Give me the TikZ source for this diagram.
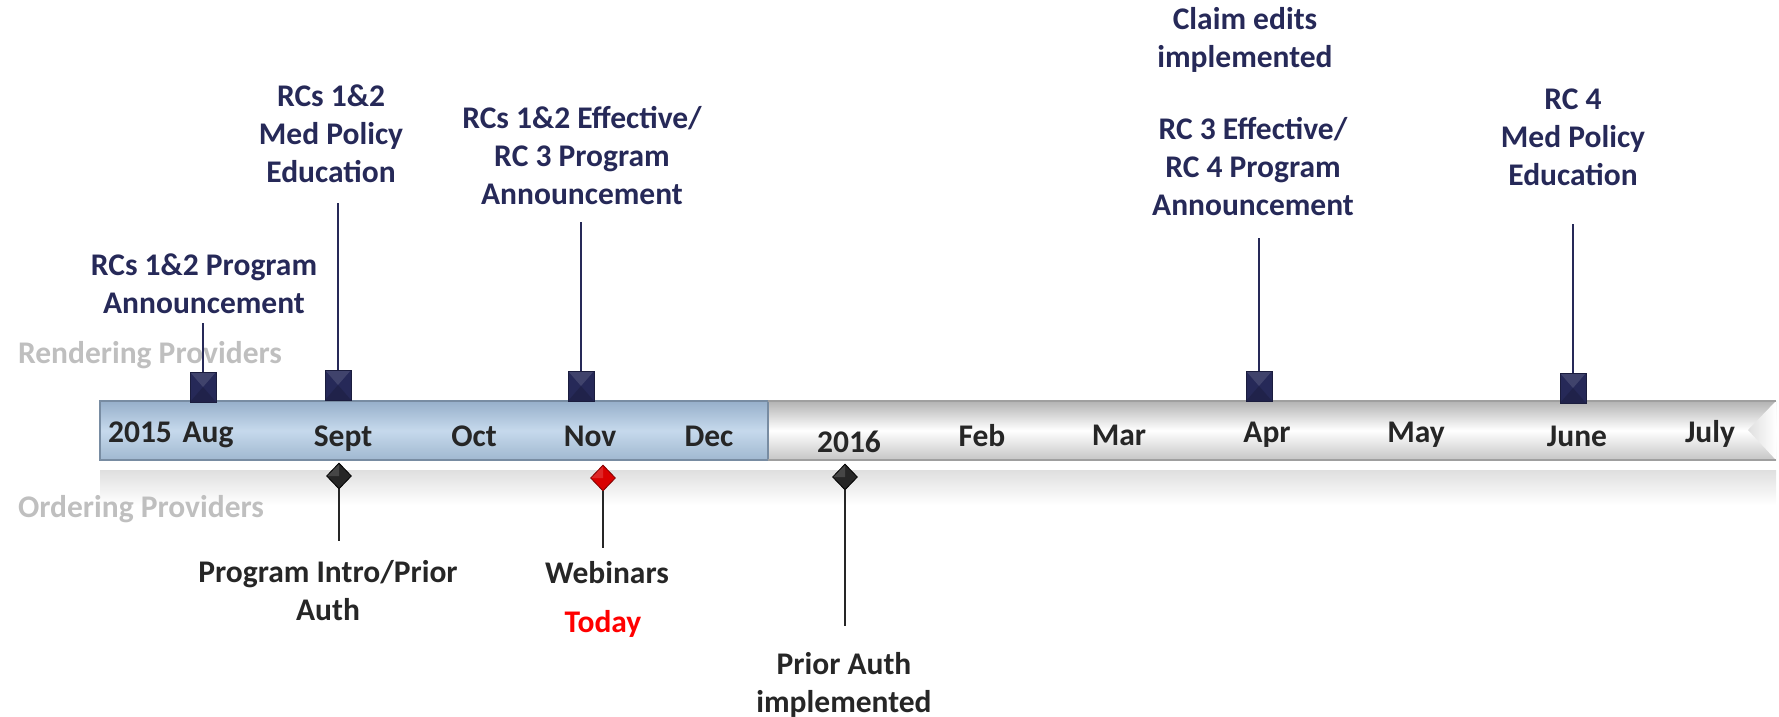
\documentclass[tikz,border=0pt]{standalone}
\usepackage{fontspec}
\setmainfont{Carlito}
\usetikzlibrary{shapes.geometric}
\definecolor{navy}{RGB}{38,41,88}
\definecolor{ink}{RGB}{38,38,38}
\definecolor{faded}{RGB}{191,191,191}
\definecolor{bluetop}{RGB}{150,175,202}
\definecolor{bluemid}{RGB}{198,217,236}
\definecolor{bluebot}{RGB}{160,184,208}
\begin{document}
\begin{tikzpicture}[x=0.5pt,y=-0.5pt,
    every node/.style={font=\fontsize{15.75}{19}\selectfont\bfseries},
    month/.style={anchor=base,text=ink},
    event/.style={anchor=base,align=center,text=navy},
    order/.style={anchor=base,align=center,text=ink},
    lane/.style={anchor=base west,text=faded},
    marker/.style={rectangle,fill=navy,draw=navy!70!black,minimum width=13pt,minimum height=15pt,inner sep=0pt,
      path picture={\fill[white,fill opacity=0.12] (path picture bounding box.north west) -- (path picture bounding box.center) -- (path picture bounding box.north east) -- cycle;
        \fill[black,fill opacity=0.15] (path picture bounding box.south west) -- (path picture bounding box.center) -- (path picture bounding box.south east) -- cycle;}},
    milestone/.style={diamond,fill=ink,draw=black,minimum width=12.5pt,minimum height=13pt,inner sep=0pt,
      path picture={\fill[white,fill opacity=0.15] (path picture bounding box.west) -- (path picture bounding box.north) -- (path picture bounding box.center) -- cycle;}},
    stem/.style={draw=navy,line width=0.9pt},
    drop/.style={draw=ink,line width=0.9pt}]
  \useasboundingbox (0,0) rectangle (1779,717);
  % time bar
  \shade[top color=bluetop,bottom color=bluebot,middle color=bluemid] (100,401) rectangle (768,460);
  \shade[top color=gray!60,bottom color=gray!45,middle color=white] (768,401) rectangle (1776,460);
  \shade[left color=gray!25,right color=white] (1776,401) -- (1748,430) -- (1776,460) -- cycle;
  \draw[bluetop!80!black,line width=0.6pt] (100,401) rectangle (768,460);
  \draw[gray!75,line width=0.6pt] (768,401) -- (1776,401) (768,460) -- (1776,460);
  \shade[top color=gray!25,bottom color=white] (100,470) rectangle (1776,505);
  % lanes
  \node[lane] (rend) at (11,363) {Rendering Providers};
  \node[lane] (ord) at (11,517) {Ordering Providers};
  % months
  \node[month] (y15) at (140,442) {2015};
  \node[month] (aug) at (208,442) {Aug};
  \node[month] (sep) at (343,446) {Sept};
  \node[month] (oct) at (474,446) {Oct};
  \node[month] (nov) at (590,446) {Nov};
  \node[month] (dec) at (709,446) {Dec};
  \node[month] (y16) at (849,452) {2016};
  \node[month] (feb) at (982,446) {Feb};
  \node[month] (mar) at (1119,445) {Mar};
  \node[month] (apr) at (1267,442) {Apr};
  \node[month] (may) at (1416,442) {May};
  \node[month] (jun) at (1577,446) {June};
  \node[month] (jul) at (1710,442) {July};
  % rendering providers
  \node[marker] (mAug) at (203,387) {};
  \node[marker] (mSept) at (338,385) {};
  \node[marker] (mNov) at (581,386) {};
  \node[marker] (mApr) at (1259,386) {};
  \node[marker] (mJune) at (1573,388) {};
  \coordinate (tAug) at (203,323);
  \coordinate (tSept) at (338,203);
  \coordinate (tNov) at (581,222);
  \coordinate (tApr) at (1259,238);
  \coordinate (tJune) at (1573,224);
  \draw[stem] (mAug) -- (tAug);
  \draw[stem] (mSept) -- (tSept);
  \draw[stem] (mNov) -- (tNov);
  \draw[stem] (mApr) -- (tApr);
  \draw[stem] (mJune) -- (tJune);
  \node[event] (lAug) at (204,313) {RCs 1\&2 Program\\Announcement};
  \node[event] (lSept) at (331,183) {RCs 1\&2\\Med Policy\\Education};
  \node[event] (lNov) at (582,205) {RCs 1\&2 Effective/\\RC 3 Program\\Announcement};
  \node[event] (lClaim) at (1245,68) {Claim edits\\implemented};
  \node[event] (lApr) at (1253,215) {RC 3 Effective/\\RC 4 Program\\Announcement};
  \node[event] (lJune) at (1573,185) {RC 4\\Med Policy\\Education};
  % ordering providers
  \node[milestone] (dSept) at (339,476) {};
  \node[milestone,fill=red!85!black,draw=red!50!black] (dNov) at (603,478) {};
  \node[milestone] (dJan) at (845,477) {};
  \coordinate (bSept) at (339,541);
  \coordinate (bNov) at (603,548);
  \coordinate (bJan) at (845,626);
  \draw[drop] (dSept) -- (bSept);
  \draw[drop] (dNov) -- (bNov);
  \draw[drop] (dJan) -- (bJan);
  \node[order] (lProg) at (328,620) {Program Intro/Prior\\Auth};
  \node[order] (lWeb) at (607,583) {Webinars};
  \node[order,text=red] (lToday) at (603,632) {Today};
  \node[order] (lPrior) at (844,712) {Prior Auth\\implemented};
\end{tikzpicture}
\end{document}
